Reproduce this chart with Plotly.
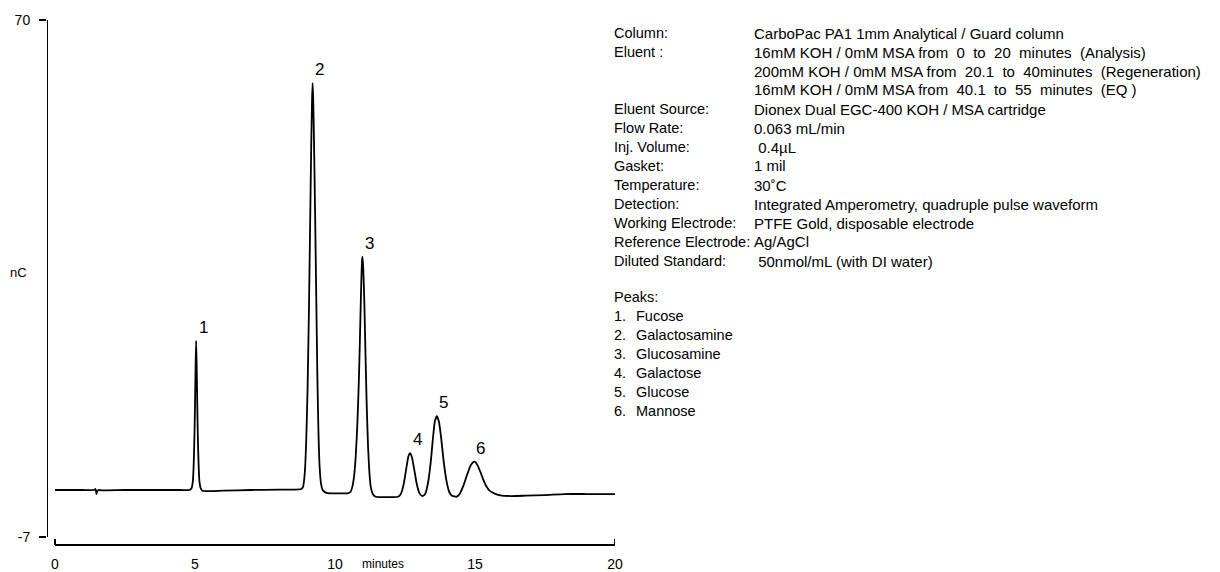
import plotly.graph_objects as go

# Chromatogram trace: retention time (min) and detector response (nC)
time_min = [
    0.00, 0.50, 1.00, 1.40, 1.45, 1.48, 1.51, 1.56, 1.65, 2.50, 3.50, 4.50, 4.80,
    4.88, 4.92, 4.95, 4.98, 5.00, 5.02, 5.04, 5.06, 5.08, 5.10, 5.13, 5.16, 5.20, 5.26,
    6.00, 7.00, 8.00, 8.80,
    8.86, 8.92, 8.97, 9.02, 9.07, 9.11, 9.15, 9.18, 9.20, 9.22, 9.25, 9.29, 9.33, 9.37,
    9.41, 9.45, 9.50, 9.56, 9.65, 9.80, 10.10, 10.45,
    10.55, 10.62, 10.68, 10.74, 10.80, 10.85, 10.89, 10.93, 10.96, 10.98, 11.01, 11.05,
    11.09, 11.13, 11.18, 11.23, 11.28, 11.35, 11.45, 11.80, 12.25,
    12.35, 12.45, 12.55, 12.62, 12.68, 12.74, 12.82, 12.92, 13.02, 13.12,
    13.22, 13.32, 13.42, 13.50, 13.57, 13.64, 13.71, 13.79, 13.88, 13.98, 14.08, 14.18, 14.35,
    14.45, 14.60, 14.72, 14.85, 14.95, 15.02, 15.10, 15.20, 15.30, 15.40, 15.52, 15.70,
    15.90, 16.30, 16.80, 17.50, 18.20, 19.00, 20.00,
]
response_nc = [
    0.00, 0.00, 0.00, 0.00, 0.15, -0.60, -0.20, 0.00, -0.05, 0.00, 0.00, 0.00, 0.00,
    0.30, 1.20, 3.40, 8.00, 12.60, 18.00, 22.20, 18.50, 13.00, 8.20, 3.60, 1.20, 0.30, -0.10,
    -0.10, 0.00, 0.05, 0.15,
    0.50, 2.50, 7.00, 15.00, 27.00, 39.00, 51.00, 58.00, 60.60, 58.50, 52.00, 41.00, 29.00, 17.00,
    8.50, 3.50, 1.00, 0.00, -0.35, -0.50, -0.50, -0.50,
    -0.30, 0.50, 2.00, 5.00, 10.00, 16.00, 22.50, 29.50, 33.80, 34.75, 33.00, 27.50,
    20.00, 13.00, 6.50, 2.50, 0.40, -0.60, -1.00, -1.05, -1.00,
    -0.60, 0.80, 3.30, 5.00, 5.50, 5.00, 3.30, 0.90, -0.50, -0.90,
    -0.60, 1.00, 4.20, 7.80, 10.30, 11.00, 10.20, 7.80, 4.30, 1.40, -0.30, -0.85, -1.00,
    -0.60, 0.80, 2.30, 3.70, 4.20, 4.15, 3.60, 2.60, 1.50, 0.60, -0.10, -0.55,
    -0.80, -0.90, -0.85, -0.75, -0.60, -0.60, -0.60,
]

# Peak identification
peak_ids = ["1", "2", "3", "4", "5", "6"]
peak_times = [5.04, 9.20, 10.98, 12.68, 13.64, 14.95]
peak_heights = [22.20, 60.60, 34.75, 5.50, 11.00, 4.20]
peak_names = ["Fucose", "Galactosamine", "Glucosamine", "Galactose", "Glucose", "Mannose"]

# Axis ticks
x_ticks = [0, 5, 10, 15, 20]
y_ticks = [70, -7]

# Method conditions (wide gaps in the eluent program lines are kept as non-breaking spaces)
NB = "\u00a0"
cond_labels = [
    "Column:", "Eluent :", "", "", "Eluent Source:", "Flow Rate:", "Inj. Volume:",
    "Gasket:", "Temperature:", "Detection:", "Working Electrode:",
    "Reference Electrode:", "Diluted Standard:",
]
cond_values = [
    "CarboPac PA1 1mm Analytical / Guard column",
    f"16mM KOH / 0mM MSA from {NB}0 {NB}to {NB}20 {NB}minutes {NB}(Analysis)",
    f"200mM KOH / 0mM MSA from {NB}20.1 {NB}to {NB}40minutes {NB}(Regeneration)",
    f"16mM KOH / 0mM MSA from {NB}40.1 {NB}to {NB}55 {NB}minutes {NB}(EQ )",
    "Dionex Dual EGC-400 KOH / MSA cartridge",
    "0.063 mL/min",
    " 0.4µL",
    "1 mil",
    "30˚C",
    "Integrated Amperometry, quadruple pulse waveform",
    "PTFE Gold, disposable electrode",
    "Ag/AgCl",
    " 50nmol/mL (with DI water)",
]

W, H = 1220, 572
L, R, T, B = 47, 605, 20, 27
PW, PH = W - L - R, H - T - B
X0, X20 = 55, 615          # pixel positions of 0 and 20 min
Y70, YM7 = 20, 537          # pixel positions of 70 and -7 nC

px_per_min = (X20 - X0) / 20
px_per_nc = (YM7 - Y70) / 77
x_range = [-(X0 - L) / px_per_min, 20]
y_range = [70 - PH / px_per_nc, 70]


def px(xp):
    return (xp - L) / PW


def py(yp):
    return (H - B - yp) / PH


FONT = "Liberation Sans, Arial, sans-serif"
TXT = 14.5
VAL = 15

fig = go.Figure()
fig.add_trace(go.Scatter(
    x=time_min, y=response_nc, mode="lines",
    line=dict(color="black", width=1.8, shape="spline", smoothing=0.5),
    hoverinfo="skip", showlegend=False,
))

annotations = []
for pid, t, h in zip(peak_ids, peak_times, peak_heights):
    annotations.append(dict(
        x=t, y=h, xref="x", yref="y", text=pid, showarrow=False,
        xanchor="center", yanchor="bottom", xshift=7, yshift=2,
        font=dict(family=FONT, size=17, color="black"),
    ))

row_y0, row_step = 33, 19
for i, (lab, val) in enumerate(zip(cond_labels, cond_values)):
    yy = py(row_y0 + i * row_step)
    if lab:
        annotations.append(dict(
            x=px(612), y=yy, xref="paper", yref="paper", text=lab, showarrow=False,
            xanchor="left", yanchor="middle", font=dict(family=FONT, size=TXT, color="black"),
        ))
    annotations.append(dict(
        x=px(752), y=yy, xref="paper", yref="paper", text=val, showarrow=False,
        xanchor="left", yanchor="middle", font=dict(family=FONT, size=VAL, color="black"),
    ))

peaks_y0 = 297
annotations.append(dict(
    x=px(612), y=py(peaks_y0), xref="paper", yref="paper", text="Peaks:", showarrow=False,
    xanchor="left", yanchor="middle", font=dict(family=FONT, size=TXT, color="black"),
))
for i, (pid, name) in enumerate(zip(peak_ids, peak_names)):
    yy = py(peaks_y0 + (i + 1) * row_step)
    annotations.append(dict(
        x=px(612), y=yy, xref="paper", yref="paper", text=pid + ".", showarrow=False,
        xanchor="left", yanchor="middle", font=dict(family=FONT, size=TXT, color="black"),
    ))
    annotations.append(dict(
        x=px(634), y=yy, xref="paper", yref="paper", text=name, showarrow=False,
        xanchor="left", yanchor="middle", font=dict(family=FONT, size=TXT, color="black"),
    ))

annotations.append(dict(
    x=px(18), y=py(272), xref="paper", yref="paper", text="nC", showarrow=False,
    xanchor="center", yanchor="middle", font=dict(family=FONT, size=13, color="black"),
))
annotations.append(dict(
    x=px(383), y=py(564), xref="paper", yref="paper", text="minutes", showarrow=False,
    xanchor="center", yanchor="middle", font=dict(family=FONT, size=12, color="black"),
))

shapes = [
    # vertical axis line from -7 to 70
    dict(type="line", xref="x", yref="y", x0=x_range[0], x1=x_range[0], y0=-7, y1=70,
         line=dict(color="black", width=2)),
    # horizontal axis line from 0 to 20 min, with end caps
    dict(type="line", xref="x", yref="paper", x0=0, x1=20, y0=0, y1=0,
         line=dict(color="black", width=2)),
    dict(type="line", xref="x", yref="paper", x0=0, x1=0, y0=0, y1=6 / PH,
         line=dict(color="black", width=2)),
    dict(type="line", xref="x", yref="paper", x0=20, x1=20, y0=0, y1=6 / PH,
         line=dict(color="black", width=2)),
]

fig.update_layout(
    width=W, height=H,
    margin=dict(l=L, r=R, t=T, b=B, pad=0, autoexpand=False),
    paper_bgcolor="white", plot_bgcolor="white",
    showlegend=False,
    annotations=annotations,
    shapes=shapes,
    xaxis=dict(
        range=x_range, tickvals=x_ticks, ticktext=[str(v) for v in x_ticks],
        showgrid=False, zeroline=False, showline=False, ticks="",
        ticklabelstandoff=9, automargin=False,
        tickfont=dict(family=FONT, size=14, color="black"),
    ),
    yaxis=dict(
        range=y_range, tickvals=y_ticks, ticktext=[str(v) for v in y_ticks],
        showgrid=False, zeroline=False, showline=False, automargin=False,
        ticks="outside", ticklen=7, tickwidth=2, tickcolor="black",
        ticklabelstandoff=6,
        tickfont=dict(family=FONT, size=14, color="black"),
    ),
)

fig.write_html("out.html")
